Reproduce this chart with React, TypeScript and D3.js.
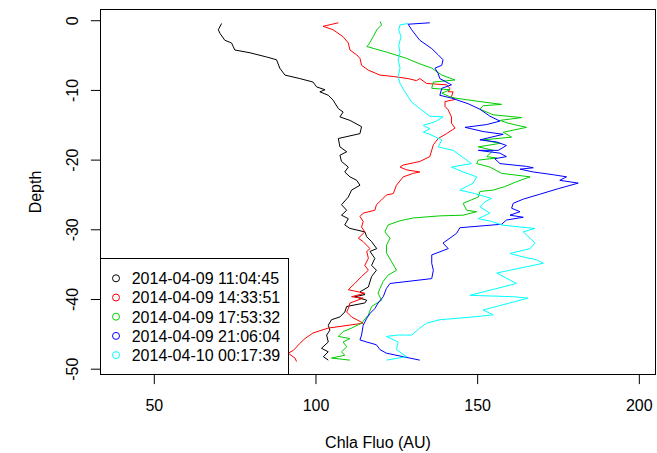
import React from 'react';
import * as d3 from 'd3';

// ---- Data (Chla fluorescence [AU], depth [m]) ----
const seriesLabels = [
  '2014-04-09 11:04:45',
  '2014-04-09 14:33:51',
  '2014-04-09 17:53:32',
  '2014-04-09 21:06:04',
  '2014-04-10 00:17:39',
];
const seriesColors = ['#000000', '#FF0000', '#00CD00', '#0000FF', '#00FFFF'];

const profile1104: [number, number][] = [
  [70.8, -0.4], [69.8, -1.3], [70.3, -1.8], [71.8, -2.8], [73.9, -3.2], [74.9, -4.2], [79.6, -4.6],
  [84.7, -5.2], [87.8, -5.6], [88.8, -6.8], [90.4, -7.8], [95.0, -8.3], [99.1, -8.8], [100.2, -9.5],
  [102.8, -9.9], [101.2, -10.2], [103.8, -10.7], [105.3, -11.4], [106.9, -12.6], [108.4, -13.1],
  [107.4, -13.8], [110.5, -14.3], [114.1, -15.2], [113.6, -16.2], [106.9, -16.9], [107.4, -18.1],
  [109.5, -18.8], [107.4, -19.3], [107.9, -20.2], [110.0, -21.0], [108.9, -21.7], [110.5, -22.4],
  [112.6, -22.9], [113.6, -23.6], [111.0, -24.3], [110.0, -25.3], [107.9, -26.4], [109.5, -27.2],
  [107.9, -27.9], [110.0, -28.4], [108.9, -29.3], [110.5, -29.8], [115.1, -30.3], [115.7, -31.0],
  [117.2, -31.7], [118.8, -32.7], [116.7, -33.1], [118.2, -34.1], [117.2, -35.1], [118.7, -35.8],
  [117.2, -36.7], [116.2, -38.2], [113.6, -38.9], [115.1, -39.3], [112.0, -39.6], [115.7, -40.1],
  [115.1, -40.5], [109.5, -41.0], [108.9, -41.8], [107.4, -42.5], [104.8, -42.9], [103.8, -43.7],
  [104.3, -44.4], [103.3, -45.1], [103.8, -46.1], [101.7, -47.0], [103.8, -47.5], [102.3, -48.2],
  [103.8, -48.7],
];

const profile1433: [number, number][] = [
  [106.9, -0.3], [102.2, -0.8], [105.3, -1.3], [108.4, -2.3], [110.0, -3.2], [110.5, -4.2], [112.6, -4.9],
  [113.6, -5.4], [114.1, -6.4], [116.2, -7.1], [119.8, -7.8], [123.9, -8.0], [128.5, -8.3], [131.1, -8.6],
  [132.1, -8.3], [134.2, -9.0], [140.4, -9.2], [141.4, -9.7], [140.9, -10.2], [142.4, -10.2],
  [141.9, -10.9], [143.0, -11.3], [139.9, -11.6], [139.9, -12.3], [140.9, -12.8], [141.9, -13.8],
  [141.9, -14.7], [143.0, -15.4], [140.4, -16.2], [137.8, -16.9], [136.3, -17.8], [135.2, -19.5],
  [132.1, -20.2], [127.0, -20.7], [126.0, -21.0], [128.0, -21.4], [132.1, -21.7], [130.1, -21.9],
  [127.0, -22.4], [124.9, -23.6], [123.9, -24.8], [121.8, -25.0], [120.3, -25.7], [118.7, -26.4],
  [118.2, -27.2], [114.6, -27.6], [113.6, -28.1], [114.6, -28.8], [114.1, -29.6], [115.1, -30.3],
  [113.1, -31.2], [114.6, -31.7], [116.7, -32.7], [115.7, -33.1], [116.2, -34.1], [115.1, -35.1],
  [116.2, -35.8], [114.1, -36.7], [112.0, -37.7], [110.0, -38.6], [115.1, -39.1], [111.0, -39.6],
  [114.6, -39.8], [110.5, -40.5], [110.0, -41.3], [109.5, -41.8], [111.0, -42.5], [114.6, -43.4],
  [103.8, -44.1], [99.1, -44.8], [96.6, -45.6], [95.0, -46.3], [93.0, -47.3], [91.4, -47.7],
  [93.5, -48.4], [94.0, -48.9],
];

const profile1753: [number, number][] = [
  [119.8, -0.1], [120.3, -0.6], [118.8, -1.3], [117.7, -2.3], [116.2, -3.5], [115.7, -3.7], [121.8, -4.5],
  [128.0, -5.4], [131.6, -6.1], [135.8, -6.8], [138.9, -7.8], [143.0, -8.5], [136.3, -8.8], [135.8, -9.7],
  [141.4, -9.9], [138.9, -10.4], [141.4, -10.9], [143.0, -11.1], [150.7, -11.6], [157.4, -12.0],
  [151.7, -12.2], [150.7, -12.7], [154.8, -13.5], [163.6, -13.9], [156.9, -14.3], [159.4, -14.7],
  [165.1, -15.3], [157.9, -16.0], [160.5, -16.7], [151.7, -17.1], [156.9, -17.6], [150.2, -18.1],
  [154.8, -18.6], [152.8, -19.5], [155.9, -19.7], [150.2, -20.0], [149.7, -20.5], [153.8, -21.0],
  [157.4, -21.9], [166.2, -22.4], [162.0, -23.1], [158.4, -23.8], [154.8, -24.3], [150.7, -24.5],
  [150.2, -25.3], [148.1, -25.7], [145.5, -26.2], [146.6, -27.2], [149.7, -27.4], [145.5, -27.9],
  [138.3, -28.0], [130.1, -28.3], [126.0, -28.7], [122.3, -29.3], [121.3, -30.3], [122.9, -31.2],
  [121.8, -32.2], [121.8, -33.3], [123.4, -34.6], [124.9, -35.8], [122.3, -36.5], [120.8, -37.4],
  [119.8, -38.4], [119.2, -39.1], [120.3, -40.1], [117.2, -41.0], [116.2, -42.2], [114.1, -43.4],
  [111.0, -44.1], [108.4, -44.6], [106.9, -45.3], [110.5, -45.6], [108.4, -46.1], [109.5, -46.8],
  [107.9, -47.5], [108.9, -48.0], [104.8, -48.4], [110.5, -48.7],
];

const profile2106: [number, number][] = [
  [135.2, -0.3], [128.5, -0.5], [129.6, -1.3], [132.1, -2.8], [135.8, -4.0], [137.8, -4.9], [139.3, -5.6],
  [138.9, -6.4], [136.8, -6.8], [137.8, -7.6], [138.3, -8.3], [141.9, -9.2], [138.9, -9.7], [138.3, -10.7],
  [141.9, -11.1], [147.0, -11.9], [150.7, -12.7], [153.8, -13.7], [156.9, -14.4], [152.8, -14.9],
  [146.1, -15.3], [151.7, -15.9], [157.9, -16.3], [150.7, -17.1], [155.9, -17.4], [158.9, -17.9],
  [156.4, -18.6], [150.2, -18.6], [156.9, -19.0], [158.9, -19.5], [155.3, -19.8], [156.9, -20.5],
  [165.1, -20.9], [167.2, -21.1], [163.1, -21.3], [167.2, -21.7], [173.4, -22.1], [177.5, -22.4],
  [175.4, -22.9], [181.1, -23.3], [174.9, -24.1], [169.2, -24.9], [164.1, -25.6], [161.0, -26.2],
  [160.5, -26.9], [163.1, -27.4], [160.0, -27.9], [164.1, -28.2], [158.9, -28.6], [157.4, -29.2],
  [144.5, -29.7], [143.5, -30.5], [139.3, -31.9], [140.9, -32.7], [135.8, -33.6], [135.8, -34.8],
  [136.3, -35.8], [135.8, -37.0], [122.9, -37.7], [121.8, -38.4], [120.8, -39.6], [119.2, -40.5],
  [118.2, -41.3], [116.7, -42.0], [115.7, -42.7], [114.6, -43.7], [114.1, -45.1], [113.6, -45.8],
  [115.7, -46.1], [118.7, -46.5], [119.8, -47.2], [121.8, -47.7], [126.9, -48.2], [132.1, -48.7],
];

const profile0017: [number, number][] = [
  [128.5, -0.4], [126.0, -0.6], [125.6, -1.3], [126.3, -2.3], [125.6, -3.5], [126.0, -4.6], [125.4, -5.6],
  [126.0, -6.8], [125.4, -8.0], [126.0, -9.0], [127.5, -10.2], [129.6, -11.7], [132.1, -12.6],
  [135.2, -13.7], [139.3, -13.8], [136.8, -14.5], [133.2, -15.0], [135.2, -15.5], [133.2, -16.0],
  [135.2, -16.3], [138.9, -17.1], [137.8, -18.1], [142.4, -18.6], [148.1, -20.5], [141.9, -21.0],
  [145.5, -21.7], [149.7, -22.4], [148.6, -23.3], [144.5, -24.3], [149.1, -24.8], [154.3, -25.5],
  [152.2, -26.0], [150.7, -26.7], [153.8, -27.6], [150.2, -28.4], [154.3, -28.8], [157.4, -29.3],
  [163.1, -29.6], [167.7, -29.8], [164.1, -30.3], [166.2, -31.2], [167.7, -31.9], [166.2, -32.7],
  [160.0, -33.4], [164.1, -33.9], [168.2, -34.3], [170.3, -34.8], [155.9, -36.2], [162.0, -37.7],
  [147.6, -39.4], [161.0, -39.6], [165.6, -39.8], [151.7, -41.5], [154.8, -42.2], [148.6, -42.5],
  [138.3, -42.9], [134.2, -43.4], [132.1, -44.1], [129.6, -45.1], [125.4, -45.1], [121.8, -45.3],
  [125.4, -46.1], [124.9, -47.2], [128.0, -48.2], [121.8, -48.7],
];

const profiles = [profile1104, profile1433, profile1753, profile2106, profile0017];

const xTicks = [50, 100, 150, 200];
const yTicks = [0, -10, -20, -30, -40, -50];
const xTitle = 'Chla Fluo (AU)';
const yTitle = 'Depth';

const W = 657;
const H = 453;
const FONT = "'Liberation Sans', Arial, Helvetica, sans-serif";

export default function App() {
  const left = 100.5, right = 655.5, top = 9.5, bottom = 374.5;
  const x = d3.scaleLinear().domain([33.36, 205.0]).range([left, right]);
  const y = d3.scaleLinear().domain([1.61, -50.76]).range([top, bottom]);
  const line = d3
    .line<[number, number]>()
    .x((d) => x(d[0]))
    .y((d) => y(d[1]));
  const tick = 9.6;

  const legX = left, legY = 258.5, legW = 188, legH = bottom - 258.5;
  const rowY0 = 278.3, rowStep = 19.2;

  return (
    <svg
      width={W}
      height={H}
      viewBox={`0 0 ${W} ${H}`}
      style={{ position: 'absolute', left: 0, top: 0, display: 'block', background: '#fff' }}
      fontFamily={FONT}
    >
      <rect x={0} y={0} width={W} height={H} fill="#fff" />
      {profiles.map((p, i) => (
        <path key={i} d={line(p) || ''} fill="none" stroke={seriesColors[i]} strokeWidth={1} strokeLinejoin="round" />
      ))}
      {/* box */}
      <rect x={left} y={top} width={right - left} height={bottom - top} fill="none" stroke="#000" strokeWidth={1} />
      {/* x axis */}
      <line x1={x(xTicks[0])} x2={x(xTicks[xTicks.length - 1])} y1={bottom} y2={bottom} stroke="#000" />
      {xTicks.map((t) => (
        <g key={t}>
          <line x1={x(t)} x2={x(t)} y1={bottom} y2={bottom + tick} stroke="#000" />
          <text x={x(t)} y={410.8} fontSize={16} textAnchor="middle" fill="#000">
            {t}
          </text>
        </g>
      ))}
      {/* y axis */}
      <line x1={left} x2={left} y1={y(yTicks[0])} y2={y(yTicks[yTicks.length - 1])} stroke="#000" />
      {yTicks.map((t) => (
        <g key={t}>
          <line x1={left - tick} x2={left} y1={y(t)} y2={y(t)} stroke="#000" />
          <text
            transform={`translate(78.3,${y(t)}) rotate(-90)`}
            fontSize={16}
            textAnchor="middle"
            fill="#000"
          >
            {t}
          </text>
        </g>
      ))}
      {/* titles */}
      <text x={(left + right) / 2} y={448} fontSize={16} textAnchor="middle" fill="#000">
        {xTitle}
      </text>
      <text transform={`translate(40.8,${(top + bottom) / 2}) rotate(-90)`} fontSize={16} textAnchor="middle" fill="#000">
        {yTitle}
      </text>
      {/* legend */}
      <rect x={legX} y={legY} width={legW} height={legH} fill="#fff" stroke="#000" strokeWidth={1} />
      {seriesLabels.map((lab, i) => {
        const cy = rowY0 + i * rowStep;
        return (
          <g key={lab}>
            <circle cx={116} cy={cy} r={3.5} fill="none" stroke={seriesColors[i]} strokeWidth={1} />
            <text x={131.7} y={cy + 5.9} fontSize={16} fill="#000">
              {lab}
            </text>
          </g>
        );
      })}
    </svg>
  );
}
